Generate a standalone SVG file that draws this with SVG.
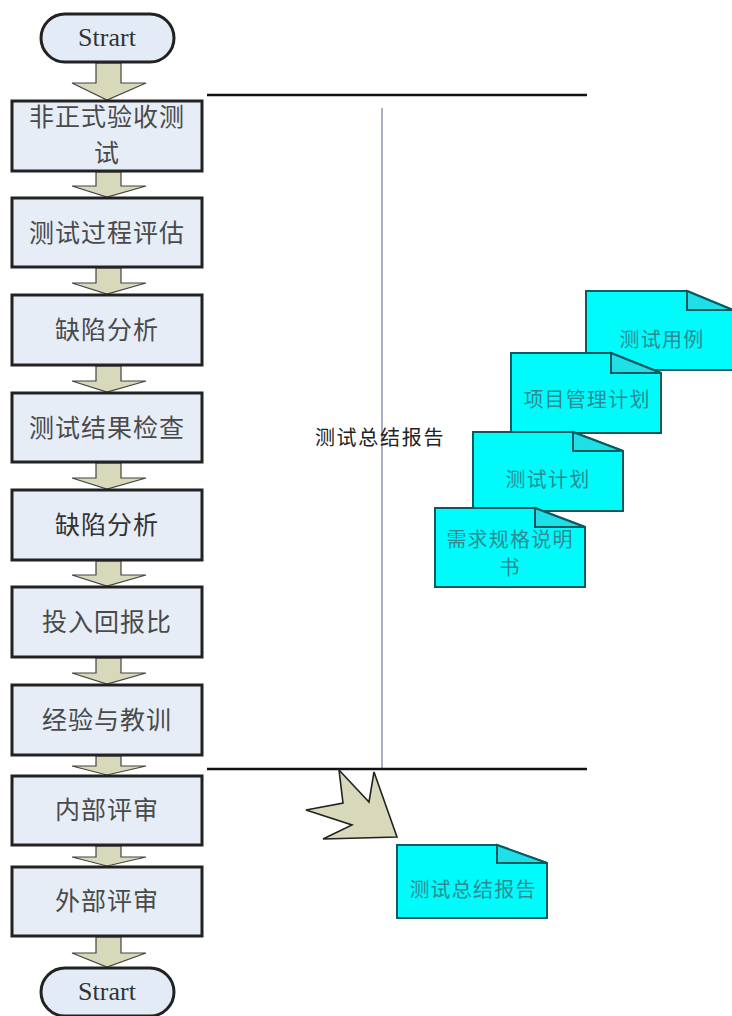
<svg xmlns="http://www.w3.org/2000/svg" width="732" height="1016" viewBox="0 0 732 1016">
<style>
text{font-family:"Noto Sans CJK SC","Liberation Serif",serif;fill:#4a4a4a;text-anchor:middle}
.b{fill:#e6edf7;stroke:#222;stroke-width:3}
.a{fill:#d8d9bb;stroke:#444;stroke-width:1.2}
.t{fill:#e3ebf6;stroke:#222;stroke-width:3}
.p{font-size:25px;letter-spacing:1px}
.d{fill:#00fbfb;stroke:#0a5a60;stroke-width:2}
.f{fill:#1fe0e6;stroke:#0a5a60;stroke-width:2}
.q{font-size:20px;letter-spacing:1.2px;fill:#2f8a92}
.s{font-family:"Liberation Serif",serif;font-size:26px;fill:#333}
.l{stroke:#111;stroke-width:2.5;fill:none}
</style>
<g id="connectors">
<path class="a" d="M96 63V83H72L107 100L146 83H121V63Z"/>
<path class="a" d="M96 172V186H72L107 197L146 186H121V172Z"/>
<path class="a" d="M96 268V283H72L107 294L146 283H121V268Z"/>
<path class="a" d="M96 366V381H72L107 392L146 381H121V366Z"/>
<path class="a" d="M96 463V478H72L107 489L146 478H121V463Z"/>
<path class="a" d="M96 561V575H72L107 586L146 575H121V561Z"/>
<path class="a" d="M96 658V673H72L107 684L146 673H121V658Z"/>
<path class="a" d="M96 756V766H72L107 775L146 766H121V756Z"/>
<path class="a" d="M96 846V857H72L107 866L146 857H121V846Z"/>
<path class="a" d="M96 937V953H72L107 967L146 953H121V937Z"/>
<path class="l" d="M207 95H587"/>
<path d="M382 108V768" stroke="#8f93b5" stroke-width="1.5" fill="none"/>
<path class="l" d="M207 769H587"/>
<path d="M339 770L369 802L374 772L397 837L323 839L352 825L306 810L343 803Z" fill="#d8d9bb" stroke="#222" stroke-width="1.6"/>
</g>
<g id="start"><rect class="t" x="41" y="14" width="133" height="48" rx="24"/><text class="s" x="107" y="46">Strart</text></g>
<g id="n1"><rect class="b" x="12" y="101" width="190" height="70"/><text class="p" x="107" y="126">非正式验收测</text><text class="p" x="107" y="162">试</text></g>
<g id="n2"><rect class="b" x="12" y="198" width="190" height="69"/><text class="p" x="107" y="242">测试过程评估</text></g>
<g id="n3"><rect class="b" x="12" y="295" width="190" height="70"/><text class="p" x="107" y="339">缺陷分析</text></g>
<g id="n4"><rect class="b" x="12" y="393" width="190" height="69"/><text class="p" x="107" y="437">测试结果检查</text></g>
<g id="n5"><rect class="b" x="12" y="490" width="190" height="70"/><text class="p" x="107" y="534" style="fill:#333">缺陷分析</text></g>
<g id="n6"><rect class="b" x="12" y="587" width="190" height="70"/><text class="p" x="107" y="631">投入回报比</text></g>
<g id="n7"><rect class="b" x="12" y="685" width="190" height="70"/><text class="p" x="107" y="729">经验与教训</text></g>
<g id="n8"><rect class="b" x="12" y="776" width="190" height="69"/><text class="p" x="107" y="819">内部评审</text></g>
<g id="n9"><rect class="b" x="12" y="867" width="190" height="69"/><text class="p" x="107" y="910">外部评审</text></g>
<g id="end"><rect class="t" x="41" y="968" width="133" height="48" rx="24"/><text class="s" x="107" y="1000">Strart</text></g>
<text id="label" x="380" y="445" style="font-size:20px;letter-spacing:1.7px;fill:#222">测试总结报告</text>
<g id="doc1"><path class="d" d="M586 291H687L733 310V370H586Z"/><path class="f" d="M687 291L733 310H687Z"/><text class="q" x="662" y="347">测试用例</text></g>
<g id="doc2"><path class="d" d="M511 353H611L661 373V433H511Z"/><path class="f" d="M611 353L661 373H611Z"/><text class="q" x="587" y="407">项目管理计划</text></g>
<g id="doc3"><path class="d" d="M473 432H573L623 451V511H473Z"/><path class="f" d="M573 432L623 451H573Z"/><text class="q" x="548" y="487">测试计划</text></g>
<g id="doc4"><path class="d" d="M435 508H535L585 527V587H435Z"/><path class="f" d="M535 508L585 527H535Z"/><text class="q" x="510" y="547">需求规格说明</text><text class="q" x="510" y="575">书</text></g>
<g id="doc5"><path class="d" d="M397 845H497L547 863V918H397Z"/><path class="f" d="M497 845L547 863H497Z"/><text class="q" x="473" y="897">测试总结报告</text></g>
</svg>
